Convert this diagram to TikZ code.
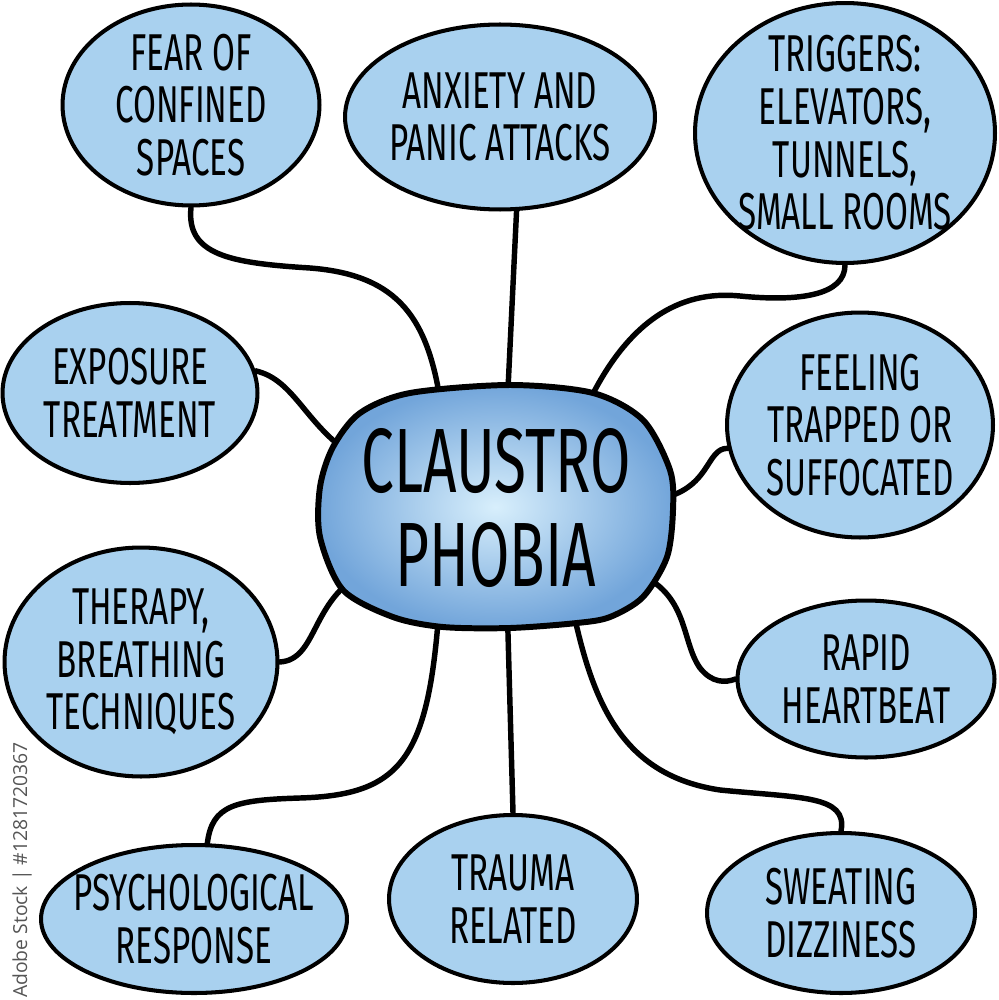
\documentclass[tikz,border=0pt]{standalone}
\usepackage{fontspec}
\usetikzlibrary{shapes.geometric,backgrounds}
\newfontfamily\handfont[FakeStretch=0.64]{Fira Sans}
\newfontfamily\stockfont{Open Sans}
\definecolor{bubblefill}{HTML}{A9D1EF}
\definecolor{coreinner}{HTML}{D8EFFC}
\definecolor{coreouter}{HTML}{72A5DA}
\definecolor{stockgray}{HTML}{555555}

\begin{document}
\begin{tikzpicture}[x=0.02cm,y=-0.02cm,
  bubble/.style={ellipse,draw=black,line width=2.3pt,fill=bubblefill,inner sep=-25pt,align=center,
    font=\handfont\fontsize{29.5}{30}\selectfont},
  link/.style={line width=3.1pt,line cap=round}]
\useasboundingbox (0,0) rectangle (999,1000);

% centre blob
\draw[line width=3.4pt,inner color=coreinner,outer color=coreouter]
  plot[smooth cycle] coordinates {(333,447) (360,413) (410,393) (510,385) (593,393) (643,420)
    (670,470) (673,510) (667,557) (643,597) (610,617) (577,623) (510,628) (443,627)
    (393,617) (343,590) (320,537) (320,487)};
\node[ellipse,minimum width=6.4cm,minimum height=4.4cm,inner sep=-40pt,align=center,
  font=\handfont\fontsize{52}{53}\selectfont] (c) at (496,508) {CLAUSTRO\\PHOBIA};

% topics
\node[bubble,minimum width=5.14cm,minimum height=4.02cm] (fear) at (191,105) {FEAR OF\\CONFINED\\SPACES};
\node[bubble,minimum width=6.2cm,minimum height=3.7cm] (anx) at (500,117) {ANXIETY AND\\PANIC ATTACKS};
\node[bubble,minimum width=6.0cm,minimum height=5.2cm] (trig) at (845,133) {TRIGGERS:\\ELEVATORS,\\TUNNELS,\\SMALL ROOMS};
\node[bubble,minimum width=5.1cm,minimum height=3.6cm] (expo) at (130,393) {EXPOSURE\\TREATMENT};
\node[bubble,minimum width=5.32cm,minimum height=4.5cm] (feel) at (860,425) {FEELING\\TRAPPED OR\\SUFFOCATED};
\node[bubble,minimum width=5.46cm,minimum height=4.58cm] (ther) at (141,662) {THERAPY,\\BREATHING\\TECHNIQUES};
\node[bubble,minimum width=5.14cm,minimum height=3.14cm] (heart) at (866,679) {RAPID\\HEARTBEAT};
\node[bubble,minimum width=6.12cm,minimum height=2.96cm] (psych) at (194,919) {PSYCHOLOGICAL\\RESPONSE};
\node[bubble,minimum width=4.96cm,minimum height=3.36cm] (trauma) at (513,899) {TRAUMA\\RELATED};
\node[bubble,minimum width=5.36cm,minimum height=3.2cm] (sweat) at (841,913) {SWEATING\\DIZZINESS};

\node[rotate=90,font=\stockfont\fontsize{11}{11}\selectfont,text=stockgray] (stock) at (22,870) {Adobe Stock | \#1281720367};

% links
\begin{scope}[on background layer]
\draw[link] (fear.south) .. controls (186,255) and (230,263) .. (310,268) .. controls (400,275) and (428,320) .. (c.118);
\draw[link] (anx.280) -- (c.84);
\draw[link] (trig.south) .. controls (845,295) and (800,302) .. (740,296) .. controls (680,290) and (625,320) .. (c.47);
\draw[link] (expo.10) .. controls (295,380) and (305,425) .. (c.160);
\draw[link] (feel.190) .. controls (705,448) and (712,490) .. (c.3);
\draw[link] (ther.east) .. controls (318,660) and (310,600) .. (c.206);
\draw[link] (c.335) .. controls (690,590) and (680,640) .. (700,668) .. controls (712,683) and (725,683) .. (heart.west);
\draw[link] (psych.80) .. controls (212,805) and (235,800) .. (300,798) .. controls (400,795) and (428,760) .. (c.241);
\draw[link] (trauma.north) -- (c.276);
\draw[link] (c.308) .. controls (592,700) and (620,775) .. (720,790) .. controls (800,798) and (848,795) .. (sweat.north);
\end{scope}
\end{tikzpicture}
\end{document}
